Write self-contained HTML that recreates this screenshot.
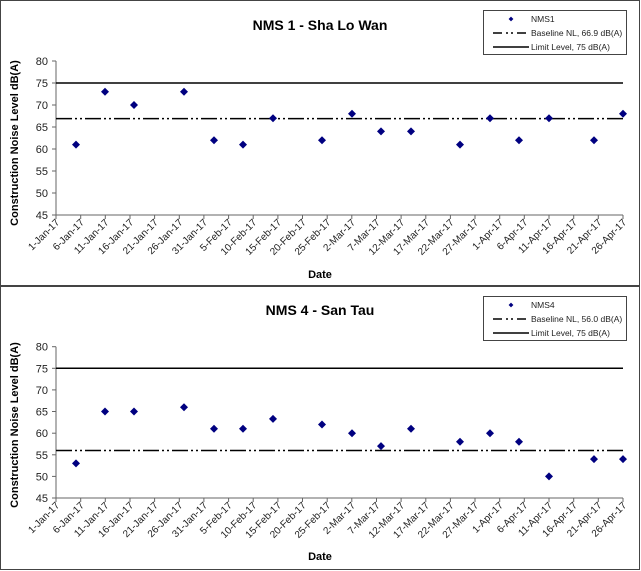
<!DOCTYPE html>
<html><head><meta charset="utf-8"><style>
body{margin:0;background:#fff}
svg{display:block;font-family:"Liberation Sans",Arial,sans-serif}
.tl{font-size:10px;fill:#222;text-anchor:end}
.yl{font-size:11px;fill:#222;text-anchor:end}
.ti{font-size:14px;font-weight:bold;text-anchor:middle}
.at{font-size:11px;font-weight:bold;text-anchor:middle}
.lg{font-size:8.5px;fill:#222}
</style></head><body>
<svg width="641" height="571" viewBox="0 0 641 571">
<defs><path id="d" d="M0,-4L4,0L0,4L-4,0Z" fill="#000080"/></defs>
<rect x="0.5" y="0.5" width="639" height="285" fill="#fff" stroke="#444"/>
<rect x="0.5" y="286.5" width="639" height="283" fill="#fff" stroke="#444"/>

<!-- TOP CHART -->
<text class="ti" x="320" y="30">NMS 1 - Sha Lo Wan</text>
<line x1="56" y1="61" x2="56" y2="215" stroke="#666"/>
<line x1="56" y1="215" x2="623" y2="215" stroke="#666"/>
<g stroke="#666">
<line x1="52" y1="61" x2="56" y2="61"/><line x1="52" y1="83" x2="56" y2="83"/><line x1="52" y1="105" x2="56" y2="105"/><line x1="52" y1="127" x2="56" y2="127"/><line x1="52" y1="149" x2="56" y2="149"/><line x1="52" y1="171" x2="56" y2="171"/><line x1="52" y1="193" x2="56" y2="193"/><line x1="52" y1="215" x2="56" y2="215"/>
</g>
<g class="yl"><text x="48" y="65">80</text><text x="48" y="87">75</text><text x="48" y="109">70</text><text x="48" y="131">65</text><text x="48" y="153">60</text><text x="48" y="175">55</text><text x="48" y="197">50</text><text x="48" y="219">45</text></g>
<line x1="56" y1="83" x2="623" y2="83" stroke="#000" stroke-width="1.5"/>
<line x1="56" y1="118.6" x2="623" y2="118.6" stroke="#000" stroke-width="1.5" stroke-dasharray="16,3,2,3,2,3"/>
<g>
<use href="#d" x="76" y="144.6"/><use href="#d" x="105" y="91.8"/><use href="#d" x="134" y="105"/><use href="#d" x="184" y="91.8"/><use href="#d" x="214" y="140.2"/><use href="#d" x="243" y="144.6"/><use href="#d" x="273" y="118.2"/><use href="#d" x="322" y="140.2"/><use href="#d" x="352" y="113.8"/><use href="#d" x="381" y="131.4"/><use href="#d" x="411" y="131.4"/><use href="#d" x="460" y="144.6"/><use href="#d" x="490" y="118.2"/><use href="#d" x="519" y="140.2"/><use href="#d" x="549" y="118.2"/><use href="#d" x="594" y="140.2"/><use href="#d" x="623" y="113.8"/>
</g>
<g id="tk" stroke="#666">
<line x1="56" y1="215" x2="56" y2="219"/><line x1="80.7" y1="215" x2="80.7" y2="219"/><line x1="105.3" y1="215" x2="105.3" y2="219"/><line x1="130" y1="215" x2="130" y2="219"/><line x1="154.6" y1="215" x2="154.6" y2="219"/><line x1="179.3" y1="215" x2="179.3" y2="219"/><line x1="203.9" y1="215" x2="203.9" y2="219"/><line x1="228.6" y1="215" x2="228.6" y2="219"/><line x1="253.2" y1="215" x2="253.2" y2="219"/><line x1="277.9" y1="215" x2="277.9" y2="219"/><line x1="302.5" y1="215" x2="302.5" y2="219"/><line x1="327.2" y1="215" x2="327.2" y2="219"/><line x1="351.8" y1="215" x2="351.8" y2="219"/><line x1="376.5" y1="215" x2="376.5" y2="219"/><line x1="401.1" y1="215" x2="401.1" y2="219"/><line x1="425.8" y1="215" x2="425.8" y2="219"/><line x1="450.4" y1="215" x2="450.4" y2="219"/><line x1="475" y1="215" x2="475" y2="219"/><line x1="499.7" y1="215" x2="499.7" y2="219"/><line x1="524.3" y1="215" x2="524.3" y2="219"/><line x1="549" y1="215" x2="549" y2="219"/><line x1="573.7" y1="215" x2="573.7" y2="219"/><line x1="598.3" y1="215" x2="598.3" y2="219"/><line x1="623" y1="215" x2="623" y2="219"/>
</g>
<g class="tl">
<text transform="translate(60,223) rotate(-45)">1-Jan-17</text>
<text transform="translate(84.7,223) rotate(-45)">6-Jan-17</text>
<text transform="translate(109.3,223) rotate(-45)">11-Jan-17</text>
<text transform="translate(134,223) rotate(-45)">16-Jan-17</text>
<text transform="translate(158.6,223) rotate(-45)">21-Jan-17</text>
<text transform="translate(183.3,223) rotate(-45)">26-Jan-17</text>
<text transform="translate(207.9,223) rotate(-45)">31-Jan-17</text>
<text transform="translate(232.6,223) rotate(-45)">5-Feb-17</text>
<text transform="translate(257.2,223) rotate(-45)">10-Feb-17</text>
<text transform="translate(281.9,223) rotate(-45)">15-Feb-17</text>
<text transform="translate(306.5,223) rotate(-45)">20-Feb-17</text>
<text transform="translate(331.2,223) rotate(-45)">25-Feb-17</text>
<text transform="translate(355.8,223) rotate(-45)">2-Mar-17</text>
<text transform="translate(380.5,223) rotate(-45)">7-Mar-17</text>
<text transform="translate(405.1,223) rotate(-45)">12-Mar-17</text>
<text transform="translate(429.8,223) rotate(-45)">17-Mar-17</text>
<text transform="translate(454.4,223) rotate(-45)">22-Mar-17</text>
<text transform="translate(479,223) rotate(-45)">27-Mar-17</text>
<text transform="translate(503.7,223) rotate(-45)">1-Apr-17</text>
<text transform="translate(528.3,223) rotate(-45)">6-Apr-17</text>
<text transform="translate(553,223) rotate(-45)">11-Apr-17</text>
<text transform="translate(577.7,223) rotate(-45)">16-Apr-17</text>
<text transform="translate(602.3,223) rotate(-45)">21-Apr-17</text>
<text transform="translate(627,223) rotate(-45)">26-Apr-17</text>
</g>
<text class="at" x="320" y="278">Date</text>
<text class="at" transform="translate(18,143) rotate(-90)">Construction Noise Level  dB(A)</text>
<rect x="483.5" y="10.5" width="143" height="44" fill="#fff" stroke="#444"/>
<use href="#d" x="511" y="19" transform="translate(511,19) scale(0.6) translate(-511,-19)"/>
<text class="lg" x="531" y="22">NMS1</text>
<line x1="493" y1="33" x2="529" y2="33" stroke="#000" stroke-width="1.5" stroke-dasharray="9,4,2,3,2,4"/>
<text class="lg" x="531" y="36">Baseline NL, 66.9 dB(A)</text>
<line x1="493" y1="47" x2="529" y2="47" stroke="#000" stroke-width="1.5"/>
<text class="lg" x="531" y="50">Limit Level, 75 dB(A)</text>

<!-- BOTTOM CHART -->
<text class="ti" x="320" y="315">NMS 4 - San Tau</text>
<line x1="56" y1="346.7" x2="56" y2="498" stroke="#666"/>
<line x1="56" y1="498" x2="623" y2="498" stroke="#666"/>
<g stroke="#666">
<line x1="52" y1="346.7" x2="56" y2="346.7"/><line x1="52" y1="368.3" x2="56" y2="368.3"/><line x1="52" y1="389.9" x2="56" y2="389.9"/><line x1="52" y1="411.5" x2="56" y2="411.5"/><line x1="52" y1="433.2" x2="56" y2="433.2"/><line x1="52" y1="454.8" x2="56" y2="454.8"/><line x1="52" y1="476.4" x2="56" y2="476.4"/><line x1="52" y1="498" x2="56" y2="498"/>
</g>
<g class="yl"><text x="48" y="350.7">80</text><text x="48" y="372.3">75</text><text x="48" y="393.9">70</text><text x="48" y="415.5">65</text><text x="48" y="437.2">60</text><text x="48" y="458.8">55</text><text x="48" y="480.4">50</text><text x="48" y="502">45</text></g>
<line x1="56" y1="368.3" x2="623" y2="368.3" stroke="#000" stroke-width="1.5"/>
<line x1="56" y1="450.5" x2="623" y2="450.5" stroke="#000" stroke-width="1.5" stroke-dasharray="16,3,2,3,2,3"/>
<g>
<use href="#d" x="76" y="463.4"/><use href="#d" x="105" y="411.5"/><use href="#d" x="134" y="411.5"/><use href="#d" x="184" y="407.2"/><use href="#d" x="214" y="428.8"/><use href="#d" x="243" y="428.8"/><use href="#d" x="273" y="418.9"/><use href="#d" x="322" y="424.5"/><use href="#d" x="352" y="433.2"/><use href="#d" x="381" y="446.1"/><use href="#d" x="411" y="428.8"/><use href="#d" x="460" y="441.8"/><use href="#d" x="490" y="433.2"/><use href="#d" x="519" y="441.8"/><use href="#d" x="549" y="476.4"/><use href="#d" x="594" y="459.1"/><use href="#d" x="623" y="459.1"/>
</g>
<use href="#tk" transform="translate(0,283)"/>
<g class="tl">
<text transform="translate(60,506) rotate(-45)">1-Jan-17</text>
<text transform="translate(84.7,506) rotate(-45)">6-Jan-17</text>
<text transform="translate(109.3,506) rotate(-45)">11-Jan-17</text>
<text transform="translate(134,506) rotate(-45)">16-Jan-17</text>
<text transform="translate(158.6,506) rotate(-45)">21-Jan-17</text>
<text transform="translate(183.3,506) rotate(-45)">26-Jan-17</text>
<text transform="translate(207.9,506) rotate(-45)">31-Jan-17</text>
<text transform="translate(232.6,506) rotate(-45)">5-Feb-17</text>
<text transform="translate(257.2,506) rotate(-45)">10-Feb-17</text>
<text transform="translate(281.9,506) rotate(-45)">15-Feb-17</text>
<text transform="translate(306.5,506) rotate(-45)">20-Feb-17</text>
<text transform="translate(331.2,506) rotate(-45)">25-Feb-17</text>
<text transform="translate(355.8,506) rotate(-45)">2-Mar-17</text>
<text transform="translate(380.5,506) rotate(-45)">7-Mar-17</text>
<text transform="translate(405.1,506) rotate(-45)">12-Mar-17</text>
<text transform="translate(429.8,506) rotate(-45)">17-Mar-17</text>
<text transform="translate(454.4,506) rotate(-45)">22-Mar-17</text>
<text transform="translate(479,506) rotate(-45)">27-Mar-17</text>
<text transform="translate(503.7,506) rotate(-45)">1-Apr-17</text>
<text transform="translate(528.3,506) rotate(-45)">6-Apr-17</text>
<text transform="translate(553,506) rotate(-45)">11-Apr-17</text>
<text transform="translate(577.7,506) rotate(-45)">16-Apr-17</text>
<text transform="translate(602.3,506) rotate(-45)">21-Apr-17</text>
<text transform="translate(627,506) rotate(-45)">26-Apr-17</text>
</g>
<text class="at" x="320" y="560">Date</text>
<text class="at" transform="translate(18,425) rotate(-90)">Construction Noise Level  dB(A)</text>
<rect x="483.5" y="296.5" width="143" height="44" fill="#fff" stroke="#444"/>
<use href="#d" x="511" y="305" transform="translate(511,305) scale(0.6) translate(-511,-305)"/>
<text class="lg" x="531" y="308">NMS4</text>
<line x1="493" y1="319" x2="529" y2="319" stroke="#000" stroke-width="1.5" stroke-dasharray="9,4,2,3,2,4"/>
<text class="lg" x="531" y="322">Baseline NL, 56.0 dB(A)</text>
<line x1="493" y1="333" x2="529" y2="333" stroke="#000" stroke-width="1.5"/>
<text class="lg" x="531" y="336">Limit Level, 75 dB(A)</text>
</svg>
</body></html>
